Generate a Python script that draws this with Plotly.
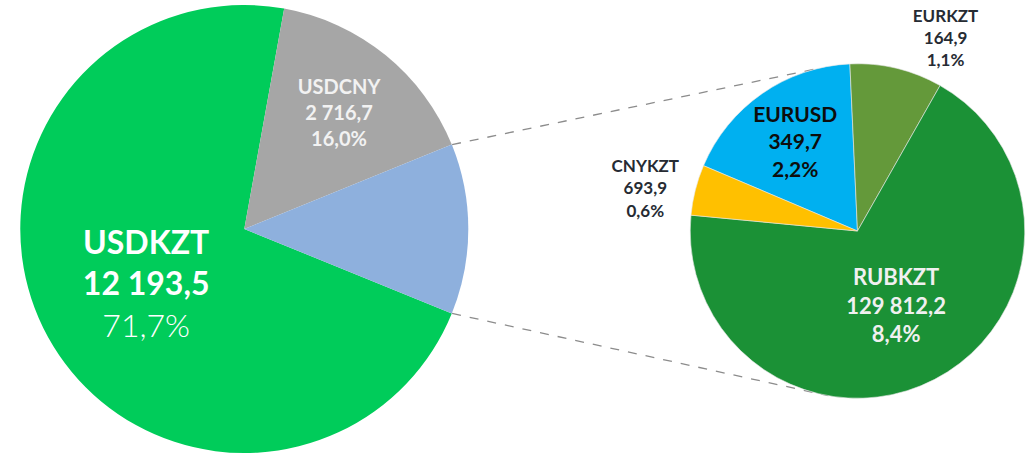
import math
import plotly.graph_objects as go

# Main split of FX turnover
main_pairs = ["USDKZT", "USDCNY"]
main_volume = [12193.5, 2716.7]
main_share = [71.7, 16.0]

# Breakdown of the remaining pairs
detail_pairs = ["EURUSD", "EURKZT", "RUBKZT", "CNYKZT"]
detail_volume = [349.7, 164.9, 129812.2, 693.9]
detail_share = [2.2, 1.1, 8.4, 0.6]

other_share = round(sum(detail_share), 1)

W, H = 1030, 456
FONT = "Lato, 'Open Sans', sans-serif"


def num(v):
    return f"{v:,.1f}".replace(",", " ").replace(".", ",")


def pct(v):
    return f"{v:.1f}".replace(".", ",") + "%"


# geometry of the two pies (pixels)
MAIN_C, MAIN_R = (245, 228), 225
SUB_C, SUB_R = (860, 230), 168


def domain(c, r):
    cx, cy = c
    return dict(x=[(cx - r) / W, (cx + r) / W],
                y=[1 - (cy + r) / H, 1 - (cy - r) / H])


# rotate the main pie so that the "other" slice faces the detail pie
other_deg = other_share / (sum(main_share) + other_share) * 360
main_rotation = 90 + other_deg / 2

main_text = [
    f"<b>{main_pairs[0]}<br>{num(main_volume[0])}</b><br>"
    f"<span style='font-weight:300'>{pct(main_share[0])}</span>",
    f"<b>{main_pairs[1]}<br>{num(main_volume[1])}<br>{pct(main_share[1])}</b>",
    "",
]

fig = go.Figure()

fig.add_trace(go.Pie(
    values=main_share + [other_share],
    labels=main_pairs + ["other"],
    text=main_text,
    texttemplate="%{text}",
    textposition="inside",
    insidetextorientation="horizontal",
    textfont=dict(family=FONT, size=[32, 20, 10], color=["#FFFFFF", "#F2F2F2", "#FFFFFF"]),
    marker=dict(colors=["#00CC5A", "#A6A6A6", "#8EB0DD"], line=dict(width=0)),
    sort=False,
    direction="clockwise",
    rotation=main_rotation,
    domain=domain(MAIN_C, MAIN_R),
    hoverinfo="label+percent",
    showlegend=False,
))

detail_text = [
    f"<b>{p}<br>{num(v)}<br>{pct(s)}</b>"
    for p, v, s in zip(detail_pairs, detail_volume, detail_share)
]

fig.add_trace(go.Pie(
    values=detail_share,
    labels=detail_pairs,
    text=detail_text,
    texttemplate="%{text}",
    textposition=["inside", "outside", "inside", "outside"],
    insidetextorientation="horizontal",
    textfont=dict(family=FONT, size=[22, 17, 22, 17],
                  color=["#0D0D0D", "#1A1A1A", "#F0F0F0", "#262B33"]),
    outsidetextfont=dict(family=FONT, size=17, color="#262B33"),
    marker=dict(colors=["#00B0F0", "#64993A", "#1B9136", "#FFC000"],
                line=dict(width=0.6, color="#E8E8E8")),
    sort=False,
    direction="clockwise",
    rotation=293,
    domain=domain(SUB_C, SUB_R),
    hoverinfo="label+percent",
    showlegend=False,
))


def on_circle(c, r, deg):
    a = math.radians(deg)
    return c[0] + r * math.sin(a), c[1] - r * math.cos(a)


# dashed connectors from the edges of the "other" slice to the detail pie
start_a = main_rotation - other_deg
end_a = main_rotation
for a_main, a_sub in [(start_a, 346), (end_a, 190)]:
    x0, y0 = on_circle(MAIN_C, MAIN_R, a_main)
    x1, y1 = on_circle(SUB_C, SUB_R, a_sub)
    fig.add_shape(type="line", xref="paper", yref="paper",
                  x0=x0 / W, y0=1 - y0 / H, x1=x1 / W, y1=1 - y1 / H,
                  line=dict(color="#8C8C8C", width=1.3, dash="dash"),
                  layer="below")

fig.update_layout(
    width=W, height=H,
    margin=dict(l=0, r=0, t=0, b=0),
    paper_bgcolor="#FFFFFF",
    plot_bgcolor="#FFFFFF",
    font=dict(family=FONT),
)

fig.write_html("out.html")
